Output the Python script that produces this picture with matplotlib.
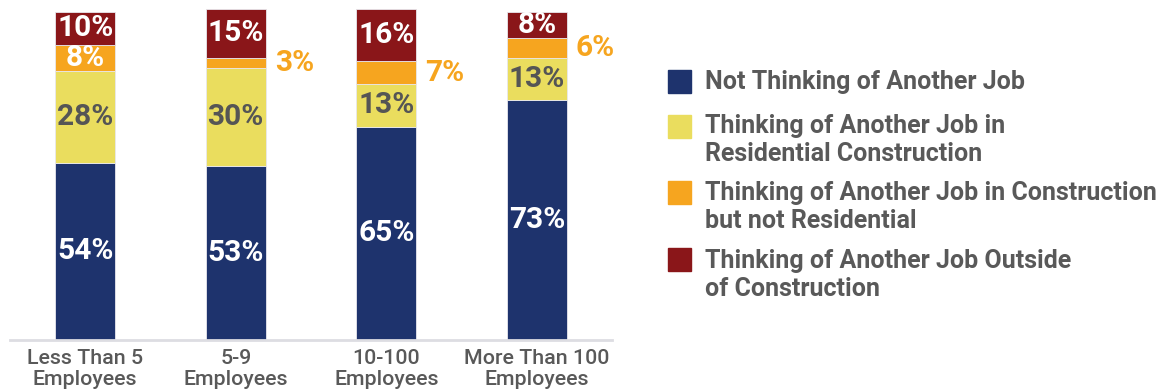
import matplotlib
matplotlib.use("Agg")
import matplotlib.pyplot as plt
from matplotlib.patches import Rectangle
import numpy as np

plt.rcParams['font.family'] = ['Roboto', 'DejaVu Sans']

categories = ["Less Than 5\nEmployees", "5-9\nEmployees", "10-100\nEmployees", "More Than 100\nEmployees"]
series_names = [
    "Not Thinking of Another Job",
    "Thinking of Another Job in\nResidential Construction",
    "Thinking of Another Job in Construction\nbut not Residential",
    "Thinking of Another Job Outside\nof Construction",
]
not_thinking = [54, 53, 65, 73]
residential = [28, 30, 13, 13]
construction_other = [8, 3, 7, 6]
outside = [10, 15, 16, 8]

colors = ["#1E336D", "#EADD5E", "#F6A51F", "#8A1619"]
inside_label_colors = ["white", "#555555", "white", "white"]
outside_label_color = "#F6A51F"
gray_text = "#595959"

W, H = 1162, 392
fig = plt.figure(figsize=(W / 100, H / 100), dpi=100)
ax = fig.add_axes([10 / W, (H - 340) / H, 602 / W, 340 / H])

x = np.arange(len(categories))
series = [not_thinking, residential, construction_other, outside]
bottom = np.zeros(len(categories))
bar_w = 0.4
for i, vals in enumerate(series):
    vals = np.array(vals, dtype=float)
    ax.bar(x, vals, bar_w, bottom=bottom, color=colors[i],
           edgecolor="#E8E8EE", linewidth=0.6, zorder=2)
    for j, v in enumerate(vals):
        yc = bottom[j] + v / 2
        if v >= 8:
            ax.text(x[j], yc, f"{int(v)}%", ha="center", va="center",
                    fontsize=21.5, fontweight="bold",
                    color=inside_label_colors[i], zorder=3)
        else:
            ax.annotate(f"{int(v)}%", (x[j] + bar_w / 2, yc),
                        xytext=(6.5, 0), textcoords="offset points",
                        ha="left", va="center", fontsize=21.5,
                        fontweight="bold", color=outside_label_color)
    bottom += vals

ax.set_xlim(-0.5, 3.5)
ax.set_ylim(0, 103.6)
for s in ["top", "right", "left"]:
    ax.spines[s].set_visible(False)
ax.spines["bottom"].set_color("#DDDDE2")
ax.spines["bottom"].set_linewidth(2)
ax.set_yticks([])
ax.set_xticks(x)
ax.set_xticklabels(categories, fontsize=15.4, color=gray_text,
                   fontweight="medium", linespacing=1.12)
ax.tick_params(axis="x", length=0, pad=6.5)

# legend drawn by hand: one swatch per series, one text call per line
baselines = [[89], [133, 161], [200, 228], [268, 296]]
swatch_tops = [70, 115, 181, 248]
for name, col, bl, top in zip(series_names, colors, baselines, swatch_tops):
    fig.patches.append(Rectangle((668 / W, 1 - (top + 23) / H), 23 / W, 23 / H,
                                 transform=fig.transFigure, color=col))
    for line, yb in zip(name.split("\n"), bl):
        fig.text(705 / W, 1 - yb / H, line, ha="left", va="baseline",
                 fontsize=18, fontweight="bold", color=gray_text)

fig.savefig("out.png", dpi=100)
